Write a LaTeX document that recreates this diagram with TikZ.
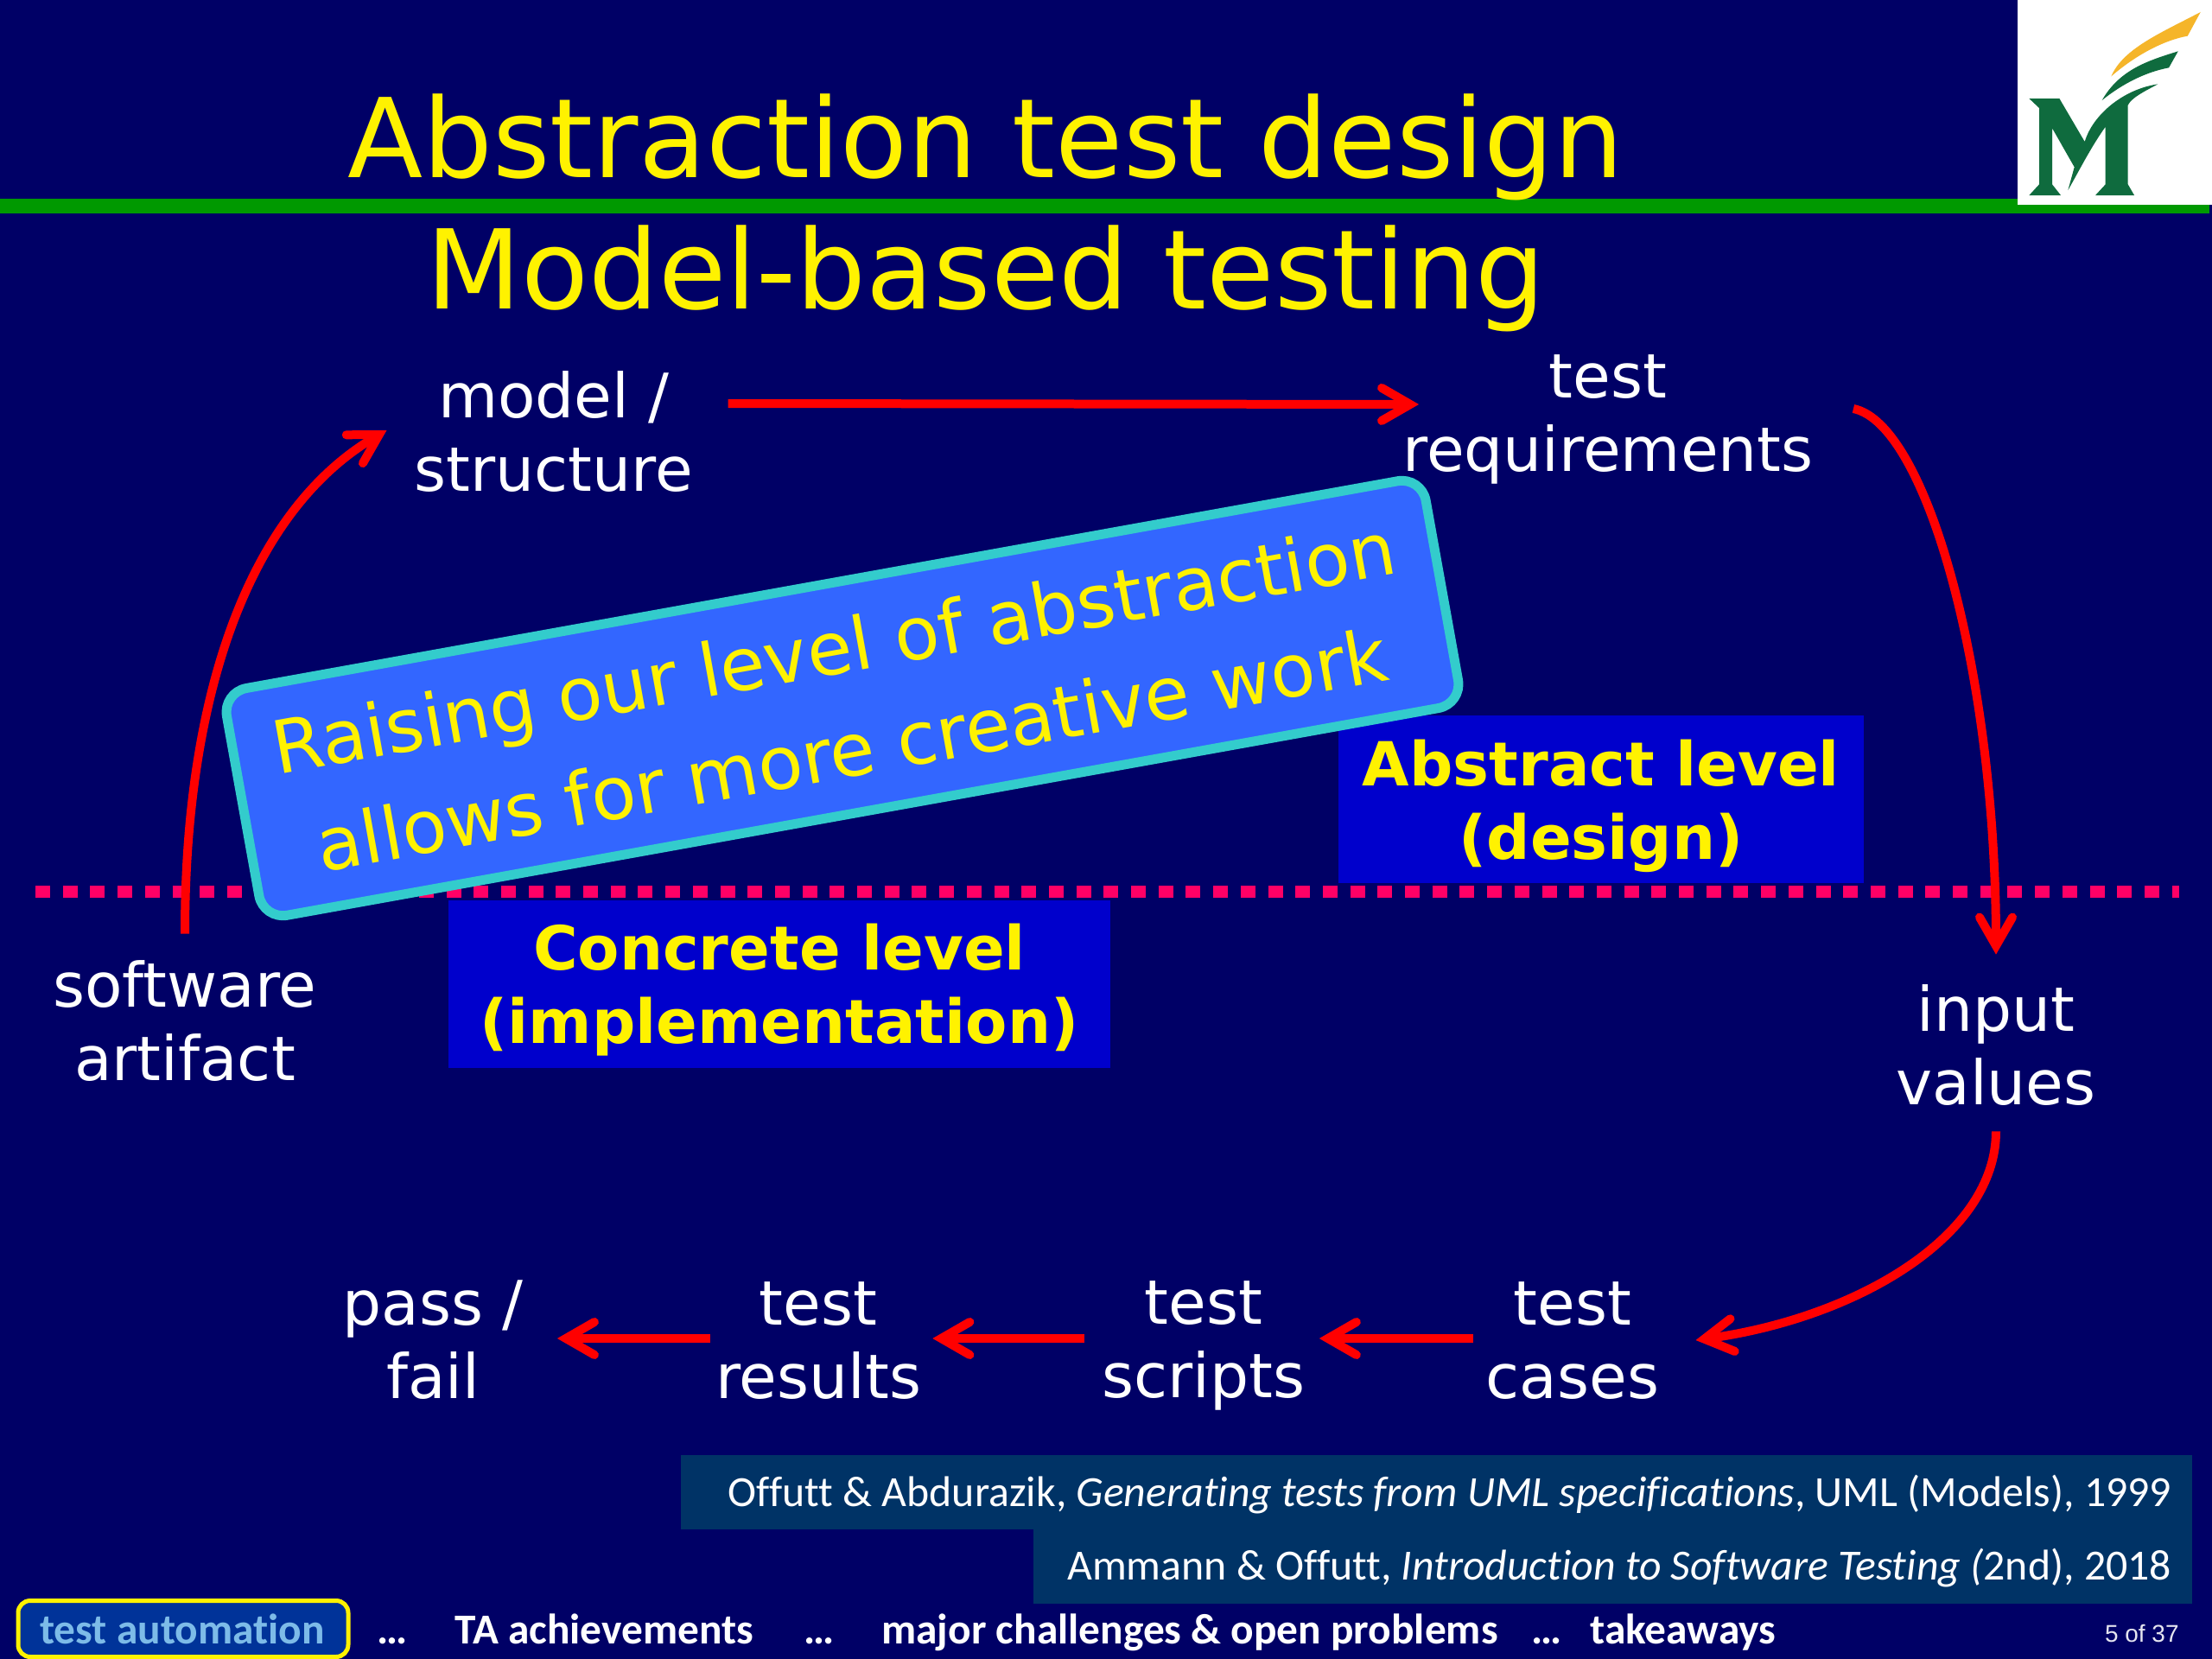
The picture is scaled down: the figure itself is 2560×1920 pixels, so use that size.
\documentclass[tikz,border=0pt]{standalone}
\usepackage{fontspec}
\usetikzlibrary{arrows.meta,calc}
\newfontfamily\dv{DejaVu Sans}
\newfontfamily\cb[Ligatures=CommonOff]{Carlito}
\newfontfamily\ls{Liberation Sans}
\definecolor{bgc}{HTML}{000066}
\definecolor{boxc}{HTML}{0000CC}
\definecolor{citec}{HTML}{003366}
\definecolor{tabc}{HTML}{003399}
\definecolor{tabt}{HTML}{7DBBE8}
\definecolor{dotc}{HTML}{FF0066}
\definecolor{barc}{HTML}{009900}
\definecolor{callf}{HTML}{3366FF}
\definecolor{calld}{HTML}{33CCCC}
\definecolor{gmug}{HTML}{0F6B3E}
\definecolor{gmuy}{HTML}{F5B52A}
\tikzset{
  px/.style={x=0.5pt,y=-0.5pt},
  bodytxt/.style={text=white,align=center,inner sep=0pt,font=\dv\fontsize{35.5}{42.5}\selectfont},
  levelbox/.style={fill=boxc,text=yellow,align=center,inner sep=0pt,font=\dv\bfseries\fontsize{35.2}{42.5}\selectfont},
  redline/.style={draw=red,line width=5pt},
  redarrow/.style={redline,-{Straight Barb[length=16.5pt,width=19pt,line width=5pt,line cap=round,line join=miter]}},
  citebox/.style={fill=citec,text=white,align=flush right,inner xsep=12pt,inner ysep=0pt,minimum height=43pt,font=\cb\fontsize{24.9}{28}\selectfont},
  foot/.style={text=white,inner sep=0pt,anchor=base west,font=\cb\bfseries\fontsize{24.7}{28}\selectfont},
}
\begin{document}
\begin{tikzpicture}[px]
\useasboundingbox (0,0) rectangle (2560,1920);
\fill[bgc] (0,0) rectangle (2560,1920);
% header bar and logo
\fill[barc] (0,230) rectangle (2557,247);
\fill[white] (2335,0) rectangle (2560,237);
\begin{scope}[shift={(2280,0)},x=0.1667pt,y=-0.1667pt]
\fill[gmuy] (490,265) .. controls (530,170) and (660,115) .. (800,42) -- (755,125) .. controls (670,140) and (570,195) .. cycle;
\fill[gmug] (458,348) .. controls (520,240) and (620,210) .. (722,178) -- (690,235) .. controls (610,250) and (530,290) .. cycle;
\fill[gmug] (205,342) -- (310,342) -- (398,492) .. controls (425,400) and (530,310) .. (652,292) .. controls (600,320) and (560,340) .. (548,365) -- (548,640) -- (570,678) -- (435,678) -- (470,640) -- (470,440) .. controls (420,510) and (380,590) .. (340,660) -- (362,580) -- (285,445) -- (285,640) -- (315,678) -- (205,678) -- (240,640) -- (240,375) -- cycle;
\end{scope}
% title
\node[text=yellow,align=center,inner sep=0pt,font=\dv\fontsize{63.7}{76}\selectfont] (title) at (1141,246) {Abstraction test design\\Model-based testing};
% level boxes
\node[levelbox,minimum width=304pt,minimum height=97pt] (abs) at (1853,925) {\rule{0pt}{35pt}Abstract level\\(design)};
\node[levelbox,minimum width=383pt,minimum height=97pt] (conc) at (902,1139) {\rule{0pt}{33pt}Concrete level\\(implementation)};
% dotted divider
\coordinate (divL) at (41,1032);
\coordinate (divR) at (2522,1032);
\draw[dotc,line width=6.75pt,dash pattern=on 8.5pt off 7.35pt] (divL) -- (divR);
% labels
\node[bodytxt] (model) at (641,500) {model /\\structure};
\node[bodytxt] (req) at (1861,485) {test\\requirements};
\node[bodytxt] (soft) at (214,1182) {software\\artifact};
\node[bodytxt] (input) at (2310,1210) {input\\values};
\node[bodytxt] (fail) at (501,1551) {pass /\\fail};
\node[bodytxt] (results) at (947,1552) {test\\results};
\node[bodytxt] (scripts) at (1393,1557) {test\\scripts};
\node[bodytxt] (cases) at (1820,1552) {test\\cases};
% connectors
\draw[redarrow] ($(soft.north)+(0,-31)$) .. controls (214,800) and (290,590) .. ($(model.west)+(-32,-2)$);
\draw[redarrow] ($(model.east)+(40,-33)$) -- ($(req.west)+(19,-17)$);
\draw[redarrow] ($(req.east)+(46,-12)$) .. controls (2230,490) and (2310,780) .. ($(input.north)+(0,-35)$);
\draw[redarrow] ($(input.south)+(0,29)$) .. controls (2310,1430) and (2150,1525) .. ($(cases.east)+(42,-1)$);
\draw[redarrow] ($(cases.west)+(-15,-3)$) -- ($(scripts.east)+(16,-8)$);
\draw[redarrow] ($(scripts.west)+(-20,-8)$) -- ($(results.east)+(13,-3)$);
\draw[redarrow] ($(results.west)+(-6,-3)$) -- ($(fail.east)+(39,-2)$);
% callout
\node[fill=callf,draw=calld,line width=5.5pt,rounded corners=14pt,rotate=10.2,minimum width=705pt,minimum height=133.5pt,inner sep=0pt,text=yellow,align=center,font=\dv\fontsize{42.4}{60}\selectfont] (callout) at (975,808) {Raising our level of abstraction\\allows for more creative work};
% citations
\node[citebox,text width=850.5pt] (cite1) at (1662.5,1727) {\rule[-7pt]{0pt}{30pt}Offutt \& Abdurazik, \textit{Generating tests from UML specifications}, UML (Models), 1999};
\node[citebox,text width=646.5pt] (cite2) at (1866.5,1813) {\rule[-7.5pt]{0pt}{30pt}Ammann \& Offutt, \textit{Introduction to Software Testing (}2nd), 2018};
% footer
\node[draw=yellow,line width=2.5pt,fill=tabc,rounded corners=7pt,minimum width=191pt,minimum height=32.5pt,inner sep=0pt] (tab) at (212,1885) {};
\node[foot,text=tabt] (tabtxt) at (46,1902) {test automation};
\node[foot] (d1) at (436,1902) {…};
\node[foot] (f1) at (526,1902) {TA achievements};
\node[foot] (d2) at (930,1902) {…};
\node[foot] (f2) at (1020,1902) {major challenges \& open problems};
\node[foot] (d3) at (1772,1902) {…};
\node[foot] (f3) at (1840,1902) {takeaways};
\node[text=white!90!bgc,inner sep=0pt,anchor=base east,font=\ls\fontsize{14}{16}\selectfont] (page) at (2522,1900) {5 of 37};
\end{tikzpicture}
\end{document}
